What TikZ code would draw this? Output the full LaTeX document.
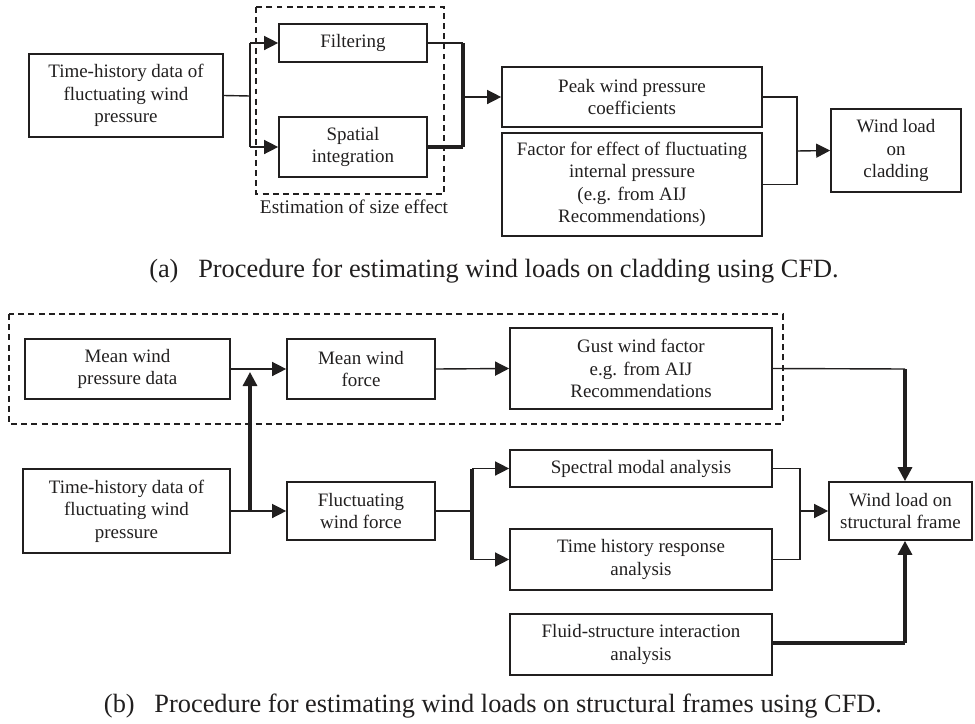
\documentclass[tikz,border=0pt]{standalone}
\usepackage{fontspec}
\setmainfont{Liberation Serif}
\usetikzlibrary{arrows.meta}
\definecolor{ink}{rgb}{0.13,0.12,0.12}
\begin{document}
\begin{tikzpicture}[x=0.02cm,y=-0.02cm,
  box/.style={draw=ink, line width=0.95pt, align=center, inner sep=0pt, text=ink,
    font=\fontsize{10.8}{12.8}\selectfont},
  thinln/.style={draw=ink, line width=0.8pt},
  thickln/.style={draw=ink, line width=1.8pt},
  tip/.style={-{Triangle[length=2.8mm,width=2.8mm]}},
  dashbox/.style={draw=ink, line width=0.8pt, dash pattern=on 3.4pt off 2.4pt},
  captext/.style={text=ink, font=\fontsize{15}{17}\selectfont},
  lbl/.style={text=ink, font=\fontsize{11}{12}\selectfont}
]
\useasboundingbox (0,0) rectangle (975,724);
% ---------------- (a) ----------------
\node[box, minimum width=194*0.02cm, minimum height=83*0.02cm] (ta) at (126,95.5)
  {Time-history data of\\fluctuating wind\\pressure};
\node[box, minimum width=148*0.02cm, minimum height=38*0.02cm] (filt) at (353,43) {Filtering};
\node[box, minimum width=148*0.02cm, minimum height=60*0.02cm] (spat) at (353,147) {Spatial\\integration};
\node[box, minimum width=260*0.02cm, minimum height=60*0.02cm] (peak) at (632,97) {Peak wind pressure\\coefficients};
\node[box, minimum width=260*0.02cm, minimum height=103*0.02cm] (fac) at (632,184.5)
  {Factor for effect of fluctuating\\internal pressure\\(e.g. from AIJ\\Recommendations)};
\node[box, minimum width=130*0.02cm, minimum height=83*0.02cm] (wlc) at (896,150.5) {Wind load\\on\\cladding};
\draw[dashbox] (256,7) rectangle (444,194);
\node[lbl] (sizelbl) at (354,207) {Estimation of size effect};

\coordinate (a1) at (250,96);
\coordinate (a2) at (463,97);
\coordinate (a3) at (797,151);
\draw[thinln] (ta.east) -- (a1);
\draw[thinln] (a1 |- filt.west) -- (a1 |- spat.west);
\draw[thinln,tip] (a1 |- filt.west) -- (filt.west);
\draw[thinln,tip] (a1 |- spat.west) -- (spat.west);
\draw[thinln] (filt.east) -- (a2 |- filt.east);
\draw[thickln] (spat.east) -- (a2 |- spat.east);
\draw[thickln] (a2 |- filt.east) -- (a2 |- spat.east);
\draw[thinln,tip] (a2) -- (peak.west);
\draw[thinln] (peak.east) -- (a3 |- peak.east) -- (a3 |- fac.east) -- (fac.east);
\draw[thinln,tip] (a3) -- (wlc.west);

\node[captext] (capa) at (494,271) {(a)\hspace{0.75em}Procedure for estimating wind loads on cladding using CFD.};

% ---------------- (b) ----------------
\draw[dashbox] (9,314) rectangle (783,424);
\node[box, minimum width=205*0.02cm, minimum height=60*0.02cm] (mwp) at (127.5,369) {Mean wind\\pressure data};
\node[box, minimum width=148*0.02cm, minimum height=60*0.02cm] (mwf) at (361,369) {Mean wind\\force};
\node[box, minimum width=262*0.02cm, minimum height=81*0.02cm] (gust) at (641,368.5)
  {Gust wind factor\\e.g. from AIJ\\Recommendations};
\node[box, minimum width=207*0.02cm, minimum height=84*0.02cm] (tb) at (126.5,511)
  {Time-history data of\\fluctuating wind\\pressure};
\node[box, minimum width=148*0.02cm, minimum height=58*0.02cm] (fwf) at (361,511) {Fluctuating\\wind force};
\node[box, minimum width=262*0.02cm, minimum height=37*0.02cm] (spec) at (641,468.5) {Spectral modal analysis};
\node[box, minimum width=262*0.02cm, minimum height=61*0.02cm] (thr) at (641,559.5) {Time history response\\analysis};
\node[box, minimum width=262*0.02cm, minimum height=61*0.02cm] (fsi) at (641,644.5) {Fluid-structure interaction\\analysis};
\node[box, minimum width=143*0.02cm, minimum height=58*0.02cm] (wls) at (900.5,511) {Wind load on\\structural frame};

\coordinate (b1) at (250,511);
\coordinate (b1t) at (250,372);
\coordinate (b2) at (472,511);
\coordinate (b3) at (800,511);
\coordinate (b4) at (905,369);
\coordinate (b5) at (905,643);

\draw[thinln,tip] (mwp.east) -- (mwf.west);
\draw[thinln,tip] (mwf.east) -- (gust.west);
\draw[thinln] (gust.east) -- (b4);
\draw[thickln,tip] (b4) -- (b4 |- wls.north);
\draw[thinln,tip] (tb.east) -- (fwf.west);
\draw[thickln,tip] (b1) -- (b1t);
\draw[thinln] (fwf.east) -- (b2);
\draw[thickln] (b2 |- spec.west) -- (b2 |- thr.west);
\draw[thinln,tip] (b2 |- spec.west) -- (spec.west);
\draw[thinln,tip] (b2 |- thr.west) -- (thr.west);
\draw[thinln] (spec.east) -- (b3 |- spec.east) -- (b3 |- thr.east) -- (thr.east);
\draw[thinln,tip] (b3) -- (wls.west);
\draw[thickln] (fsi.east |- b5) -- (b5);
\draw[thickln,tip] (b5) -- (b5 |- wls.south);

\node[captext] (capb) at (493,706) {(b)\hspace{0.75em}Procedure for estimating wind loads on structural frames using CFD.};
\end{tikzpicture}
\end{document}
